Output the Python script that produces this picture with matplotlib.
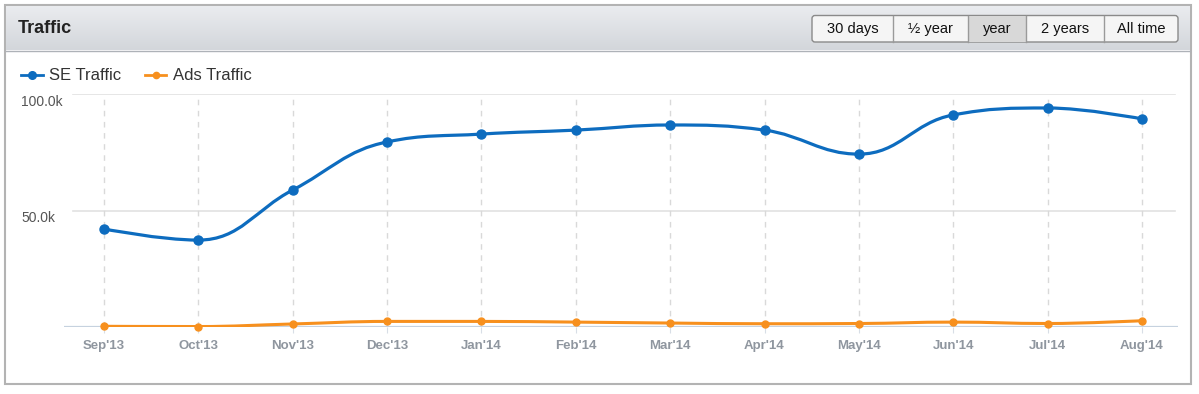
import numpy as np
import matplotlib
matplotlib.use('Agg')
import matplotlib.pyplot as plt
from matplotlib.path import Path
from matplotlib.patches import PathPatch, Rectangle, FancyBboxPatch
from matplotlib.lines import Line2D
from matplotlib.colors import LinearSegmentedColormap

# data (in visits)
months = ["Sep'13", "Oct'13", "Nov'13", "Dec'13", "Jan'14", "Feb'14",
          "Mar'14", "Apr'14", "May'14", "Jun'14", "Jul'14", "Aug'14"]
se_traffic = [42100, 37300, 58800, 79400, 82800, 84500,
              86700, 84500, 74200, 91000, 94000, 89300]
ads_traffic = [300, 200, 1300, 2400, 2400, 2100,
               1700, 1400, 1500, 2100, 1500, 2700]
y_ticks = [50000, 100000]
y_labels = ['50.0k', '100.0k']
buttons = ['30 days', '½ year', 'year', '2 years', 'All time']
selected = 'year'

plt.rcParams['font.family'] = ['Liberation Sans', 'DejaVu Sans']

W, H = 1199, 394
fig = plt.figure(figsize=(W / 100, H / 100), dpi=100)
fig.patch.set_facecolor('white')

# background / panel decoration, in pixel coordinates
bg = fig.add_axes([0, 0, 1, 1], zorder=0)
bg.set_xlim(0, W)
bg.set_ylim(H, 0)
bg.axis('off')
bg.add_patch(Rectangle((5, 5), 1186, 379, facecolor='white', edgecolor='#b3b3b3', lw=1.5))
grad = LinearSegmentedColormap.from_list('hdr', ['#eaecef', '#d3d6db'])
bg.imshow(np.linspace(0, 1, 60).reshape(-1, 1), cmap=grad, aspect='auto',
          extent=(6, 1190, 50, 6), zorder=1)
bg.plot([6, 1190], [50.5, 50.5], color='#aeb2b8', lw=1, zorder=2)
bg.text(18, 28, 'Traffic', fontsize=13, fontweight='bold', color='#222222',
        va='center', ha='left', zorder=3)

# range buttons
edges = [812, 893, 968, 1026, 1104, 1178]
bg.add_patch(FancyBboxPatch((812, 15.5), 366, 26.5, boxstyle='round,pad=0,rounding_size=3',
                            facecolor='#f5f5f5', edgecolor='#8a8a8a', lw=1, zorder=3))
for i, name in enumerate(buttons):
    if name == selected:
        bg.add_patch(Rectangle((edges[i], 16), edges[i + 1] - edges[i], 25.5,
                               facecolor='#d8d8d8', edgecolor='none', zorder=4))
    if i > 0:
        bg.plot([edges[i], edges[i]], [16, 41.5], color='#9a9a9a', lw=1, zorder=5)
    bg.text((edges[i] + edges[i + 1]) / 2, 29, name, fontsize=10.5, color='#111111',
            ha='center', va='center', zorder=5)

# chart axes
left, right, top, bottom = 64, 1178, 94, 327
ax = fig.add_axes([left / W, (H - bottom) / H, (right - left) / W, (bottom - top) / H], zorder=1)
ax.patch.set_alpha(0)
x = np.arange(len(months))
step = 94.36
ax.set_xlim((left - 104) / step, (right - 104) / step)
ax.set_ylim(0, 100000)
for s in ax.spines.values():
    s.set_visible(False)

ax.set_xticks(x)
ax.set_xticklabels(months, fontsize=9.5, fontweight='bold', color='#8f969f', va='baseline')
ax.tick_params(axis='x', length=4, color='#d8dee6', pad=11.5)
ax.set_yticks([])
ax.grid(axis='x', color='#d9d9d9', linestyle=(0, (4, 4)), lw=1)

for v, lab in zip(y_ticks, y_labels):
    ax.axhline(v, xmin=9 / 1114, xmax=1111 / 1114, color='#e2e2e2', lw=1.2, zorder=1)
    ax.annotate(lab, xy=(0, v), xycoords=('axes fraction', 'data'),
                xytext=(-43 * 0.72, -8 * 0.72), textcoords='offset points',
                ha='left', va='center', fontsize=10, color='#555555', annotation_clip=False)
ax.axhline(0, color='#c6d2df', lw=1.6, zorder=2)


def spline(xs, ys):
    # highcharts-like spline, computed in pixel space
    pts = ax.transData.transform(np.column_stack([xs, ys]))
    n = len(pts)
    lc = pts.copy()
    rc = pts.copy()
    sm, den = 1.5, 2.5
    for i in range(1, n - 1):
        px, py = pts[i]
        lx, ly = pts[i - 1]
        nx, ny = pts[i + 1]
        lcx, lcy = (sm * px + lx) / den, (sm * py + ly) / den
        rcx, rcy = (sm * px + nx) / den, (sm * py + ny) / den
        dl = np.hypot(lcx - px, lcy - py)
        dr = np.hypot(rcx - px, rcy - py)
        la = np.arctan2(lcy - py, lcx - px)
        ra = np.arctan2(rcy - py, rcx - px)
        ja = np.pi / 2 + (la + ra) / 2
        if abs(la - ja) > np.pi / 2:
            ja -= np.pi
        lcx, lcy = px + np.cos(ja) * dl, py + np.sin(ja) * dl
        rcx, rcy = px + np.cos(np.pi + ja) * dr, py + np.sin(np.pi + ja) * dr
        if lcy > ly and lcy > py:
            lcy = max(ly, py)
            rcy = 2 * py - lcy
        elif lcy < ly and lcy < py:
            lcy = min(ly, py)
            rcy = 2 * py - lcy
        if rcy > ny and rcy > py:
            rcy = max(ny, py)
            lcy = 2 * py - rcy
        elif rcy < ny and rcy < py:
            rcy = min(ny, py)
            lcy = 2 * py - rcy
        lc[i] = (lcx, lcy)
        rc[i] = (rcx, rcy)
    verts = [pts[0]]
    codes = [Path.MOVETO]
    for i in range(1, n):
        verts += [rc[i - 1], lc[i], pts[i]]
        codes += [Path.CURVE4] * 3
    verts = ax.transData.inverted().transform(np.array(verts))
    return Path(verts, codes)


se_color = '#0d6cbf'
ads_color = '#f7901e'
ax.add_patch(PathPatch(spline(x, ads_traffic), fill=False, edgecolor=ads_color,
                       lw=2.2, capstyle='round', joinstyle='round', zorder=3))
ax.add_patch(PathPatch(spline(x, se_traffic), fill=False, edgecolor=se_color,
                       lw=2.3, capstyle='round', joinstyle='round', zorder=4))
ax.plot(x, ads_traffic, 'o', color=ads_color, ms=5, zorder=5, clip_on=False)
ax.plot(x, se_traffic, 'o', color=se_color, ms=6.5, zorder=6, clip_on=False)

handles = [Line2D([], [], color=se_color, lw=2, marker='o', ms=5.5),
           Line2D([], [], color=ads_color, lw=2, marker='o', ms=4.5)]
fig.legend(handles, ['SE Traffic', 'Ads Traffic'], loc='center left',
           bbox_to_anchor=(6 / W, (H - 76) / H), ncol=2, frameon=False,
           fontsize=12, handlelength=1.3, handletextpad=0.4, columnspacing=1.4,
           labelcolor='#333333')

fig.savefig('out.png', dpi=100)
